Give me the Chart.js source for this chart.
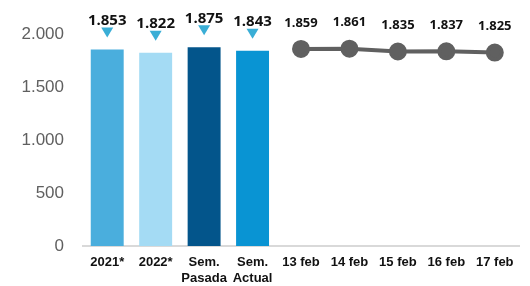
<!DOCTYPE html>
<html>
<head>
<meta charset="utf-8">
<script src="https://cdn.jsdelivr.net/npm/chart.js@4.4.1/dist/chart.umd.min.js"></script>
<style>
  html, body { margin: 0; padding: 0; background: #fff; }
  #wrap { width: 530px; height: 286px; position: relative; }
</style>
</head>
<body>
<div id="wrap"><canvas id="chart"></canvas></div>
<script>
const categories = [
  "2021*", "2022*", ["Sem.", "Pasada"], ["Sem.", "Actual"],
  "13 feb", "14 feb", "15 feb", "16 feb", "17 feb",
];
const barValues = [1853, 1822, 1875, 1843, null, null, null, null, null];
const lineValues = [null, null, null, null, 1859, 1861, 1835, 1837, 1825];
const barColors = ["#4aaedd", "#a4dbf4", "#03558b", "#0994d3"];
const yTicks = [0, 500, 1000, 1500, 2000];

function fmt(v) {
  return String(v).replace(/\B(?=(\d{3})+(?!\d))/g, ".");
}

// value labels above bars (with down arrow) and above line points
const valueLabels = {
  id: "valueLabels",
  afterDatasetsDraw(chart) {
    const ctx = chart.ctx;
    ctx.save();
    ctx.textAlign = "center";
    ctx.textBaseline = "middle";
    chart.getDatasetMeta(0).data.forEach((el, i) => {
      const v = barValues[i];
      if (v == null) return;
      ctx.fillStyle = "#111";
      ctx.font = "700 15px 'Open Sans'";
      ctx.fillText(fmt(v), el.x, el.y - 29);
      // arrow
      const ay = el.y - 17;
      ctx.fillStyle = "#3aaed6";
      ctx.beginPath();
      ctx.moveTo(el.x - 6, ay - 5);
      ctx.lineTo(el.x + 6, ay - 5);
      ctx.lineTo(el.x, ay + 5);
      ctx.closePath();
      ctx.fill();
    });
    chart.getDatasetMeta(1).data.forEach((el, i) => {
      const v = lineValues[i];
      if (v == null) return;
      ctx.fillStyle = "#111";
      ctx.font = "700 13px 'Open Sans'";
      ctx.fillText(fmt(v), el.x, el.y - 26);
    });
    ctx.restore();
  },
};

new Chart(document.getElementById("chart"), {
  data: {
    labels: categories,
    datasets: [
      {
        type: "bar",
        data: barValues,
        backgroundColor: barColors,
        barPercentage: 0.68,
        categoryPercentage: 1,
      },
      {
        type: "line",
        data: lineValues,
        borderColor: "#606060",
        backgroundColor: "#606060",
        borderWidth: 4,
        pointRadius: 7,
        pointHoverRadius: 7,
        spanGaps: false,
      },
    ],
  },
  options: {
    responsive: true,
    maintainAspectRatio: false,
    animation: false,
    layout: { padding: { top: 34, right: 2, left: 0, bottom: 0 } },
    plugins: { legend: { display: false }, tooltip: { enabled: false } },
    scales: {
      x: {
        grid: { display: false, drawTicks: false },
        border: { display: true, color: "#d9d9d9", width: 2 },
        ticks: {
          color: "#111",
          font: { family: "'Liberation Sans', Arial", size: 13, weight: "bold" },
          padding: 9,
          maxRotation: 0,
          autoSkip: false,
        },
        afterFit(scale) { scale.height = 40; },
      },
      y: {
        min: 0,
        max: 2000,
        afterBuildTicks(scale) { scale.ticks = yTicks.map((v) => ({ value: v })); },
        grid: { display: false, drawTicks: false },
        border: { display: false },
        ticks: {
          color: "#5f5f5f",
          font: { family: "'Liberation Sans', Arial", size: 17 },
          padding: 19,
          callback(value) { return fmt(value); },
        },
        afterFit(scale) { scale.width = 83; },
      },
    },
  },
  plugins: [valueLabels],
});
</script>
</body>
</html>
